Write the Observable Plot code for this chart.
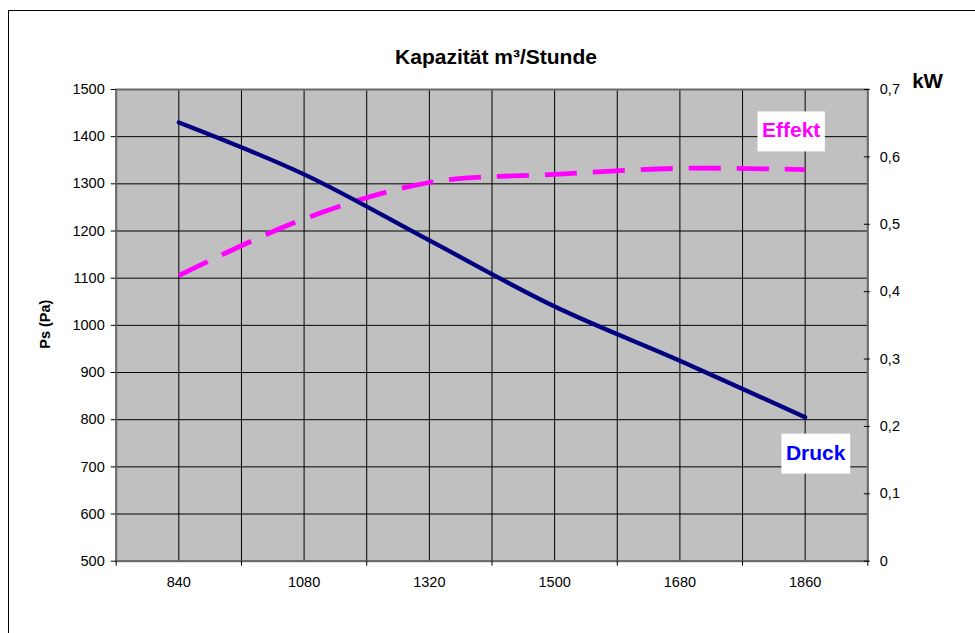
<!DOCTYPE html>
<html>
<head>
<meta charset="utf-8">
<script src="https://cdn.jsdelivr.net/npm/d3@7"></script>
<script src="https://cdn.jsdelivr.net/npm/@observablehq/plot@0.6"></script>
<style>
  html, body { margin: 0; padding: 0; background: #fff; }
  #chart { position: relative; width: 975px; height: 633px; overflow: hidden; }
</style>
</head>
<body>
<div id="chart"></div>
<script>
const categories = ["840", "1080", "1320", "1500", "1680", "1860"];
const druck = [1430, 1320, 1180, 1040, 925, 805];          // Ps (Pa), left axis
const effekt = [0.424, 0.508, 0.562, 0.574, 0.583, 0.581]; // kW, right axis
const paTicks = [500, 600, 700, 800, 900, 1000, 1100, 1200, 1300, 1400, 1500];
const kwTicks = [0, 0.1, 0.2, 0.3, 0.4, 0.5, 0.6, 0.7];
const title = "Kapazität m³/Stunde";

const rows = categories.map((c, i) => ({i, c, druck: druck[i], effekt: effekt[i]}));
const toPa = d3.scaleLinear().domain([0, 0.7]).range([500, 1500]);
const boundaries = [rows[0].i - 0.5, ...rows.map(r => r.i + 0.5)];
const centers = rows.map(r => r.i);
const gridX = [...boundaries, ...centers];
const fmtKw = d => d === 0 ? "0" : d.toFixed(1).replace(".", ",");

const plot = Plot.plot({
  width: 975,
  height: 633,
  marginLeft: 115.7,
  marginRight: 107.7,
  marginTop: 89,
  marginBottom: 72.3,
  style: {fontFamily: "Arial, 'Liberation Sans', sans-serif", fontSize: "14.5px", color: "#000", background: "transparent"},
  x: {type: "linear", domain: [-0.5, 5.5], axis: null},
  y: {type: "linear", domain: [500, 1500], axis: null},
  marks: [
    Plot.frame({fill: "#c0c0c0"}),
    Plot.ruleY(paTicks, {stroke: "#000", strokeWidth: 1}),
    Plot.ruleX(gridX, {stroke: "#000", strokeWidth: 1}),
    Plot.frame({stroke: "#6a6a6a", strokeWidth: 2}),
    Plot.axisY(paTicks, {anchor: "left", tickSize: 5, tickPadding: 6.5, tickFormat: d => String(d), label: null}),
    Plot.axisX(boundaries, {anchor: "bottom", tickSize: 5, tickFormat: () => "", label: null}),
    Plot.axisX(centers, {anchor: "bottom", tickSize: 0, tickPadding: 16, tickFormat: i => categories[i], label: null}),
    Plot.axisY(kwTicks, {anchor: "right", y: toPa, tickSize: 6, dx: -4.5, tickFormat: () => "", label: null}),
    Plot.axisY(kwTicks, {anchor: "right", y: toPa, tickSize: 0, tickPadding: 12, tickFormat: fmtKw, label: null}),
    Plot.line(rows, {x: "i", y: d => toPa(d.effekt), stroke: "#ff00ff", strokeWidth: 4.8,
      strokeDasharray: "32,16", strokeLinecap: "butt", curve: "catmull-rom"}),
    Plot.line(rows, {x: "i", y: "druck", stroke: "#000080", strokeWidth: 4.3,
      strokeLinecap: "round", strokeLinejoin: "round", curve: "catmull-rom"}),
    Plot.text([title], {frameAnchor: "top", dx: 4, dy: -40.7, fontSize: 21, fontWeight: "bold", fill: "#000"}),
    Plot.text(["kW"], {frameAnchor: "top-right", dx: 44.4, dy: -15.7, textAnchor: "start", fontSize: 20.5, fontWeight: "bold", fill: "#000"}),
    Plot.text(["Ps (Pa)"], {frameAnchor: "left", dx: -70.7, dy: 23.4, rotate: -90, fontSize: 14.5, fontWeight: "bold", fill: "#000"}),
    Plot.text([rows[rows.length - 1]], {x: "i", y: d => toPa(d.effekt), text: () => "Effekt",
      dx: -14, dy: -39, fill: "#ff00ff", fontSize: 21, fontWeight: "bold"}),
    Plot.text([rows[rows.length - 1]], {x: "i", y: "druck", text: () => "Druck",
      dx: 10.5, dy: 35.6, fill: "#0000ff", fontSize: 21, fontWeight: "bold"})
  ]
});

document.getElementById("chart").appendChild(plot);

// white boxes behind the two series labels
plot.querySelectorAll("text").forEach(t => {
  const s = t.textContent;
  if (s === "Effekt" || s === "Druck") {
    const bb = t.getBBox();
    const r = document.createElementNS("http://www.w3.org/2000/svg", "rect");
    r.setAttribute("x", bb.x - 4.5);
    r.setAttribute("y", bb.y - 7);
    r.setAttribute("width", bb.width + 9);
    r.setAttribute("height", bb.height + 17);
    r.setAttribute("fill", "#fff");
    r.setAttribute("stroke", "none");
    if (t.getAttribute("transform")) r.setAttribute("transform", t.getAttribute("transform"));
    t.parentNode.insertBefore(r, t);
  }
});

// outer chart frame (extends past the visible window)
const svg = d3.select(plot);
svg.insert("rect", ":first-child")
  .attr("x", 8.5).attr("y", 10.5).attr("width", 1200).attr("height", 1200)
  .attr("fill", "none").attr("stroke", "#000").attr("stroke-width", 1);
</script>
</body>
</html>
